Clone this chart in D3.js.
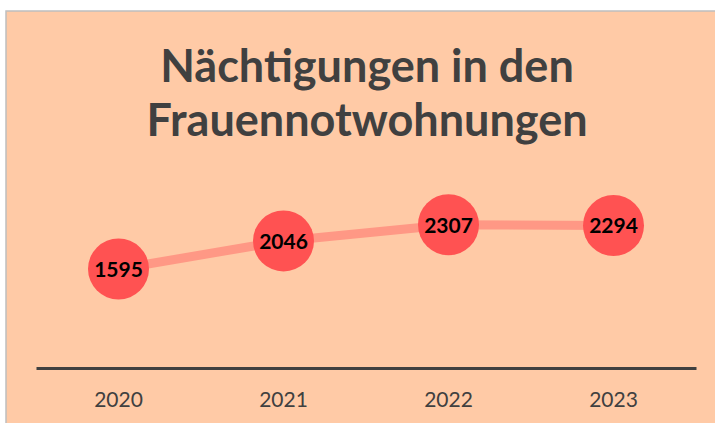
<!DOCTYPE html>
<html lang="de">
<head>
  <meta charset="UTF-8">
  <title>Nächtigungen in den Frauennotwohnungen</title>
  <script src="https://d3js.org/d3.v7.min.js"></script>
  <style>
    body { margin: 0; background: #fff; }
    svg { display: block; font-family: Lato, "DejaVu Sans", sans-serif; }
  </style>
</head>
<body>
  <svg width="715" height="423"></svg>
  <script>
    // data
    const years = ['2020', '2021', '2022', '2023'];
    const nights = [1595, 2046, 2307, 2294];
    const titleLines = ['Nächtigungen in den', 'Frauennotwohnungen'];

    const svg = d3.select('svg');

    // panel background
    svg.append('rect')
      .attr('x', 6).attr('y', 11)
      .attr('width', 740).attr('height', 440)
      .attr('fill', '#FFCAA6')
      .attr('stroke', '#BFBFBF')
      .attr('stroke-width', 1.5);

    // title
    svg.append('text')
      .attr('text-anchor', 'middle')
      .attr('fill', '#404040')
      .style('font-weight', 700)
      .style('font-size', '45px')
      .selectAll('tspan')
      .data(titleLines)
      .join('tspan')
      .attr('x', 367)
      .attr('y', (d, i) => 82 + i * 54)
      .text(d => d);

    const x = d3.scaleBand().domain(years).range([36, 696]);
    const y = d3.scaleLinear().domain([0, 2500]).range([368, 212.75]);

    const pts = years.map((yr, i) => ({ year: yr, value: nights[i] }));

    // axis
    const xAxis = svg.append('g')
      .attr('transform', 'translate(0,368)')
      .call(d3.axisBottom(x).tickSize(0).tickPadding(24));
    xAxis.select('.domain').attr('stroke', '#404040').attr('stroke-width', 3);
    xAxis.selectAll('text')
      .attr('fill', '#404040')
      .style('font-family', 'Lato, sans-serif')
      .style('font-size', '21px');

    // line
    const line = d3.line()
      .x(d => x(d.year) + x.bandwidth() / 2)
      .y(d => y(d.value));

    svg.append('path')
      .datum(pts)
      .attr('fill', 'none')
      .attr('stroke', '#FF9885')
      .attr('stroke-width', 9)
      .attr('d', line);

    // markers
    svg.selectAll('circle.pt')
      .data(pts)
      .join('circle')
      .attr('class', 'pt')
      .attr('cx', d => x(d.year) + x.bandwidth() / 2)
      .attr('cy', d => y(d.value))
      .attr('r', 30.5)
      .attr('fill', '#FF5252');

    svg.selectAll('text.lbl')
      .data(pts)
      .join('text')
      .attr('class', 'lbl')
      .attr('x', d => x(d.year) + x.bandwidth() / 2)
      .attr('y', d => y(d.value))
      .attr('dy', '0.37em')
      .attr('text-anchor', 'middle')
      .attr('fill', '#000')
      .style('font-weight', 700)
      .style('font-size', '21px')
      .text(d => d.value);
  </script>
</body>
</html>
